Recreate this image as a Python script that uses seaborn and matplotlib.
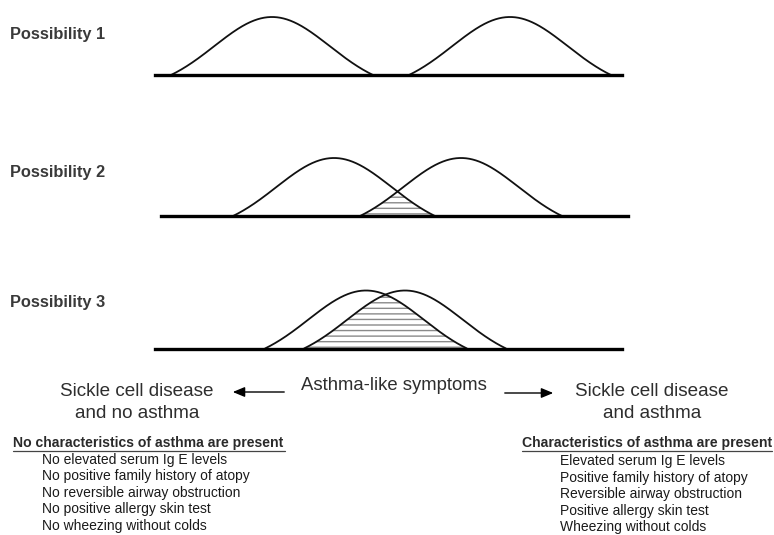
import numpy as np
import pandas as pd
import seaborn as sns
import matplotlib.pyplot as plt

# three possibilities: two symptom distributions each (centre, half-width on a 0-467 scale)
panel_labels = ['Possibility 1', 'Possibility 2', 'Possibility 3']
no_asthma_centre = [117, 173, 211]
asthma_centre = [355, 300, 250]
half_width = [101, 101, 101]
shade_overlap = [False, True, True]

left_title = ['Sickle cell disease', 'and no asthma']
right_title = ['Sickle cell disease', 'and asthma']
middle_label = 'Asthma-like symptoms'
left_header = 'No characteristics of asthma are present'
right_header = 'Characteristics of asthma are present'
left_items = ['No elevated serum Ig E levels', 'No positive family history of atopy',
              'No reversible airway obstruction', 'No positive allergy skin test',
              'No wheezing without colds']
right_items = ['Elevated serum Ig E levels', 'Positive family history of atopy',
               'Reversible airway obstruction', 'Positive allergy skin test',
               'Wheezing without colds']

W, H = 774, 535
sns.set_theme(style='white')
plt.rcParams['font.family'] = ['Liberation Sans', 'DejaVu Sans']

fig = plt.figure(figsize=(W / 100, H / 100), dpi=100)


def bell(x, m, w):
    # bell curve cut at +-w, scaled to peak 1
    s = w / 1.75
    e0 = np.exp(-0.5 * (w / s) ** 2)
    y = (np.exp(-0.5 * ((x - m) / s) ** 2) - e0) / (1 - e0)
    return np.where(np.abs(x - m) <= w, y, np.nan)


# panel placement in pixels: left edge, baseline y (from top), label y
panel_left = [155, 161, 155]
panel_base = [75, 216, 348.5]
label_y = [34, 173, 303]
span = 467
unit = 58  # pixels per unit height

for i in range(3):
    ax = fig.add_axes([panel_left[i] / W, (H - panel_base[i]) / H, span / W, 1.1 * unit / H])
    ax.set_xlim(0, span)
    ax.set_ylim(0, 1.1)
    x = np.linspace(0, span, 2000)
    ya = bell(x, no_asthma_centre[i], half_width[i])
    yb = bell(x, asthma_centre[i], half_width[i])
    df = pd.DataFrame({'x': np.concatenate([x, x]),
                       'y': np.concatenate([ya, yb]),
                       'group': ['no asthma'] * len(x) + ['asthma'] * len(x)})
    if shade_overlap[i]:
        ov = np.fmin(np.nan_to_num(ya), np.nan_to_num(yb))
        ax.fill_between(x, 0, ov, where=ov > 0, facecolor='white', edgecolor='#8a8a8a',
                        hatch='---', linewidth=0)
    sns.lineplot(data=df, x='x', y='y', units='group', estimator=None, color='#111111',
                 lw=1.3, ax=ax, legend=False)
    for sp in ['top', 'left', 'right']:
        ax.spines[sp].set_visible(False)
    ax.spines['bottom'].set_linewidth(2.4)
    ax.spines['bottom'].set_color('black')
    ax.set_xticks([])
    ax.set_yticks([])
    ax.set_xlabel('')
    ax.set_ylabel('')
    ax.patch.set_alpha(0)

# overlay in pixel coordinates for the text
ov_ax = fig.add_axes([0, 0, 1, 1], zorder=-1)
ov_ax.set_xlim(0, W)
ov_ax.set_ylim(H, 0)
ov_ax.axis('off')

for i in range(3):
    ov_ax.text(10, label_y[i], panel_labels[i], fontsize=11.8, fontweight='bold',
               color='#3a3a3a', va='center', ha='left')

for j, t in enumerate(left_title):
    ov_ax.text(137, 392 + 21 * j, t, fontsize=13.6, color='#2e2e2e', ha='center', va='center')
for j, t in enumerate(right_title):
    ov_ax.text(652, 392 + 21 * j, t, fontsize=13.6, color='#2e2e2e', ha='center', va='center')
ov_ax.text(394, 385, middle_label, fontsize=13.3, color='#2e2e2e', ha='center', va='center')

arrow = dict(arrowstyle='-|>,head_length=0.6,head_width=0.25', color='black', lw=1)
ov_ax.annotate('', xy=(230, 392), xytext=(287, 392), arrowprops=arrow)
ov_ax.annotate('', xy=(556, 393), xytext=(502, 393), arrowprops=arrow)

ov_ax.text(13, 443, left_header, fontsize=10.1, fontweight='bold', color='#2a2a2a',
           ha='left', va='center')
ov_ax.plot([13, 285], [450.5, 450.5], color='#444444', lw=0.9)
ov_ax.text(522, 443, right_header, fontsize=10.1, fontweight='bold', color='#2a2a2a',
           ha='left', va='center')
ov_ax.plot([522, 772], [450.5, 450.5], color='#444444', lw=0.9)

for j, t in enumerate(left_items):
    ov_ax.text(42, 460 + 16.4 * j, t, fontsize=10, color='#1a1a1a', ha='left', va='center')
for j, t in enumerate(right_items):
    ov_ax.text(560, 461.5 + 16.4 * j, t, fontsize=10, color='#1a1a1a', ha='left', va='center')

fig.savefig('out.png', dpi=100, facecolor='white')
